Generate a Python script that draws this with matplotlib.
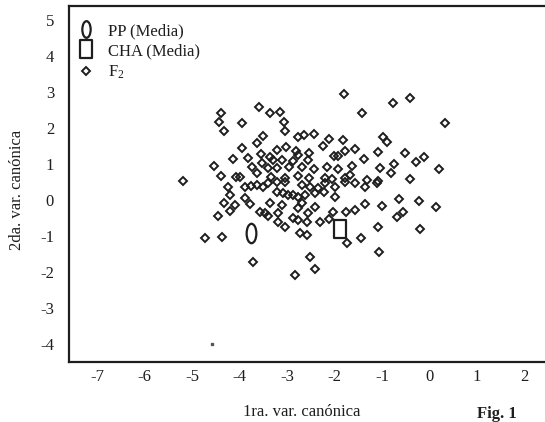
import matplotlib
matplotlib.use("Agg")
import matplotlib.pyplot as plt
from matplotlib.lines import Line2D
from matplotlib.path import Path
import numpy as np

plt.rcParams['font.family'] = 'Liberation Serif'
plt.rcParams['axes.unicode_minus'] = False
plt.rcParams['mathtext.fontset'] = 'custom'
plt.rcParams['mathtext.rm'] = 'Liberation Serif'
plt.rcParams['mathtext.it'] = 'Liberation Serif:italic'
plt.rcParams['mathtext.bf'] = 'Liberation Serif:bold'

# F2 individuals (1ra. / 2da. variable canonica)
f2_x = [-3.59, -4.39, -4.44, -4.33, -3.95, -3.51, -3.63, -3.95, -3.55, -3.82,
        -4.14, -4.54, -3.74, -3.53, -4.39, -4.08, -3.99, -3.63, -5.19, -1.80,
        -1.42, -3.36, -3.15, -3.06, -3.04, -2.77, -2.64, -2.43, -2.12, -2.24,
        -1.82, -1.78, -1.57, -2.01, -1.93, -1.38, -3.21, -3.02, -2.81, -2.77,
        -3.36, -3.30, -3.11, -2.88, -2.54, -2.56, -3.40, -3.21, -2.96, -2.69,
        -2.43, -2.16, -1.93, -1.63, -3.34, -3.04, -2.77, -2.54, -2.20, -2.05,
        -1.78, -1.67, -1.32, -0.41, -0.77, 0.33, -0.98, -0.89, -1.08, -0.51,
        -0.11, -0.28, -0.75, -0.81, -1.04, 0.20, -0.41, -1.08, -4.25, -4.20,
        -3.89, -3.76, -3.63, -3.51, -4.33, -4.10, -4.20, -3.89, -3.78, -4.46,
        -3.57, -3.47, -4.73, -4.37, -3.72, -3.36, -3.40, -3.19, -3.19, -3.04,
        -3.11, -3.21, -3.09, -2.98, -2.88, -2.77, -2.62, -2.41, -2.22, -1.99,
        -2.69, -2.77, -2.56, -2.41, -2.88, -2.77, -2.58, -2.73, -2.58, -2.31,
        -2.12, -2.03, -1.76, -1.57, -1.36, -1.57, -1.36, -1.74, -1.44, -2.52,
        -2.41, -2.83, -3.40, -3.21, -3.04, -2.69, -2.52, -2.35, -2.20, -1.99,
        -1.78, -1.10, -1.00, -0.64, -0.68, -0.56, -0.22, 0.14, -1.08, -0.20,
        -1.06]
f2_y = [2.58, 2.42, 2.17, 1.92, 2.14, 1.78, 1.58, 1.44, 1.28, 1.17,
        1.14, 0.94, 0.92, 1.03, 0.67, 0.64, 0.64, 0.75, 0.53, 2.94,
        2.42, 2.42, 2.44, 2.17, 1.92, 1.75, 1.81, 1.83, 1.69, 1.50,
        1.67, 1.36, 1.42, 1.22, 1.22, 1.14, 1.39, 1.47, 1.36, 1.25,
        1.19, 1.11, 1.11, 1.08, 1.31, 1.11, 0.89, 0.89, 0.92, 0.92,
        0.86, 0.92, 0.86, 0.94, 0.64, 0.61, 0.67, 0.61, 0.61, 0.58,
        0.61, 0.69, 0.56, 2.83, 2.69, 2.14, 1.75, 1.61, 1.33, 1.31,
        1.19, 1.06, 1.00, 0.75, 0.89, 0.86, 0.58, 0.53, 0.36, 0.14,
        0.36, 0.39, 0.42, 0.36, -0.08, -0.14, -0.31, 0.06, -0.11, -0.44,
        -0.33, -0.36, -1.06, -1.03, -1.72, -0.08, -0.44, -0.36, -0.61, -0.75,
        -0.14, 0.22, 0.19, 0.14, 0.14, 0.08, 0.14, 0.19, 0.22, 0.08,
        -0.08, -0.22, -0.36, -0.19, -0.50, -0.56, -0.61, -0.92, -0.97, -0.61,
        -0.53, -0.33, -0.33, -0.28, -0.11, 0.47, 0.36, -1.19, -1.06, -1.58,
        -1.92, -2.08, 0.47, 0.50, 0.50, 0.42, 0.36, 0.33, 0.47, 0.36,
        0.50, 0.47, -0.17, 0.03, -0.47, -0.33, -0.03, -0.19, -0.75, -0.81,
        -1.44]

# group means
pp_mean = (-3.76, -0.92)
cha_mean = (-1.88, -0.81)
# isolated speck near the bottom
stray = (-4.58, -4.0)

x_ticks = [-7, -6, -5, -4, -3, -2, -1, 0, 1, 2]
y_ticks = [-4, -3, -2, -1, 0, 1, 2, 3, 4, 5]

ink = '#1e1e1e'

# tall ellipse and tall rectangle markers
ellipse = Path(Path.unit_circle().vertices * np.array([0.5, 1.0]), Path.unit_circle().codes)
rect = Path([(-0.33, -0.5), (0.33, -0.5), (0.33, 0.5), (-0.33, 0.5), (-0.33, -0.5)],
            [Path.MOVETO, Path.LINETO, Path.LINETO, Path.LINETO, Path.CLOSEPOLY])

fig = plt.figure(figsize=(5.45, 4.22), dpi=100)
ax = fig.add_axes([0.1273, 0.1422, 0.8727, 0.8436])

ax.plot(f2_x, f2_y, linestyle='none', marker='D', markersize=4.3,
        markerfacecolor='none', markeredgecolor=ink, markeredgewidth=1.4)
ax.plot([pp_mean[0]], [pp_mean[1]], linestyle='none', marker=ellipse, markersize=14,
        markerfacecolor='white', markeredgecolor=ink, markeredgewidth=1.6)
ax.plot([cha_mean[0]], [cha_mean[1]], linestyle='none', marker=rect, markersize=13,
        markerfacecolor='none', markeredgecolor=ink, markeredgewidth=1.6)
ax.plot([stray[0]], [stray[1]], linestyle='none', marker='s', markersize=2,
        color='#555555')

ax.set_xlim(-7.59, 2.44)
ax.set_ylim(-4.5, 5.39)
ax.set_xticks(x_ticks)
ax.set_yticks(y_ticks)
ax.tick_params(length=0, labelsize=12, colors=ink)
ax.tick_params(axis='x', pad=5)
ax.tick_params(axis='y', pad=11)
for side in ['left', 'bottom', 'top']:
    ax.spines[side].set_linewidth(1.6)
    ax.spines[side].set_color(ink)
ax.spines['right'].set_visible(False)

ax.set_xlabel('1ra. var. canónica', fontsize=12, color=ink)
ax.set_ylabel('2da. var. canónica', fontsize=12, color=ink)
ax.xaxis.set_label_coords(0.489, -0.118)
ax.yaxis.set_label_coords(-0.093, 0.483)

handles = [
    Line2D([], [], linestyle='none', marker=ellipse, markersize=12,
           markerfacecolor='none', markeredgecolor=ink, markeredgewidth=1.6),
    Line2D([], [], linestyle='none', marker=rect, markersize=13,
           markerfacecolor='none', markeredgecolor=ink, markeredgewidth=1.6),
    Line2D([], [], linestyle='none', marker='D', markersize=4.3,
           markerfacecolor='none', markeredgecolor=ink, markeredgewidth=1.4),
]
labels = ['PP (Media)', 'CHA (Media)', 'F$_2$']
ax.legend(handles, labels, loc='upper left', bbox_to_anchor=(0.018, 0.952),
          frameon=False, fontsize=12, borderaxespad=0, borderpad=0,
          handlelength=1.0, handletextpad=0.8, labelspacing=0.25,
          labelcolor=ink)

fig.text(0.912, 0.019, 'Fig. 1', fontsize=12, fontweight='bold',
         ha='center', va='center', color=ink)

fig.savefig('out.png', dpi=100)
